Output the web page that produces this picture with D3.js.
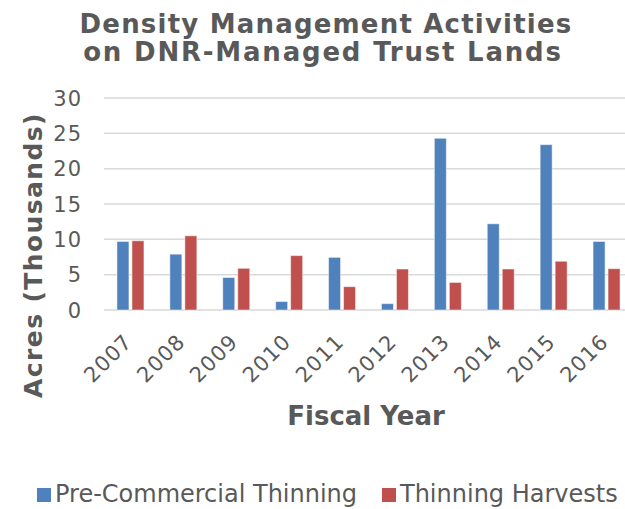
<!DOCTYPE html>
<html>
<head>
<meta charset="utf-8">
<script src="https://cdn.jsdelivr.net/npm/d3@7"></script>
<style>
  body { margin: 0; background: #fff; }
  text { font-family: "DejaVu Sans", Verdana, sans-serif; fill: #595959; }
</style>
</head>
<body>
<div id="chart"></div>
<script>
// Data
const years = ["2007", "2008", "2009", "2010", "2011", "2012", "2013", "2014", "2015", "2016"];
const preCommercial = [9.7, 7.9, 4.6, 1.2, 7.45, 0.9, 24.3, 12.2, 23.4, 9.7];
const thinningHarvests = [9.8, 10.5, 5.9, 7.7, 3.3, 5.8, 3.9, 5.8, 6.9, 5.85];
const seriesNames = ["Pre-Commercial Thinning", "Thinning Harvests"];
const yTicks = [0, 5, 10, 15, 20, 25, 30];

const width = 625, height = 509;
// plot runs a bit past the right edge, the picture is cropped there
const plot = { left: 104, right: 633, top: 98, bottom: 310 };
const colors = ["#4f81bd", "#c0504d"];

const svg = d3.select('#chart').append('svg').attr('width', width).attr('height', height);

const x = d3.scaleBand().domain(years).range([plot.left, plot.right]);
const y = d3.scaleLinear().domain([0, 30]).range([plot.bottom, plot.top]);

// Title
svg.append('text').attr('x', 326).attr('y', 33).attr('text-anchor', 'middle')
  .style('font-size', '26px').style('font-weight', 'bold').style('letter-spacing', '1.2px')
  .text('Density Management Activities');
svg.append('text').attr('x', 323).attr('y', 61).attr('text-anchor', 'middle')
  .style('font-size', '26px').style('font-weight', 'bold').style('letter-spacing', '1.8px')
  .text('on DNR-Managed Trust Lands');

// Gridlines
svg.selectAll('line.grid').data(yTicks).enter().append('line')
  .attr('x1', plot.left).attr('x2', width)
  .attr('y1', d => y(d)).attr('y2', d => y(d))
  .attr('stroke', '#d9d9d9').attr('stroke-width', 1.5);

// Y labels
svg.selectAll('text.ytick').data(yTicks).enter().append('text')
  .attr('x', 82).attr('y', d => y(d) + 7.5).attr('text-anchor', 'end')
  .style('font-size', '21px').style('letter-spacing', '1px').text(d => d);

// Bars
const barW = 12, gap = 3;
[preCommercial, thinningHarvests].forEach((vals, s) => {
  svg.selectAll('rect.s' + s).data(vals).enter().append('rect')
    .attr('x', (d, i) => x(years[i]) + x.bandwidth() / 2 - barW - gap / 2 + s * (barW + gap))
    .attr('y', d => y(d)).attr('width', barW).attr('height', d => y(0) - y(d))
    .attr('fill', colors[s]).attr('stroke', '#fff').attr('stroke-opacity', 0.5).attr('stroke-width', 1);
});

// X labels
svg.selectAll('text.xtick').data(years).enter().append('text')
  .attr('transform', d => `translate(${x(d) + x.bandwidth() / 2 + 3},${y(0) + 33}) rotate(-45)`)
  .attr('text-anchor', 'end').style('font-size', '21px').style('letter-spacing', '1px').text(d => d);

// Axis titles
svg.append('text').attr('transform', 'translate(42,255) rotate(-90)').attr('text-anchor', 'middle')
  .style('font-size', '25px').style('font-weight', 'bold').style('letter-spacing', '1.4px')
  .text('Acres (Thousands)');
svg.append('text').attr('x', 366).attr('y', 425).attr('text-anchor', 'middle')
  .style('font-size', '26px').style('font-weight', 'bold').text('Fiscal Year');

// Legend
const legendX = [37, 382];
seriesNames.forEach((name, i) => {
  svg.append('rect').attr('x', legendX[i]).attr('y', 488).attr('width', 14).attr('height', 14).attr('fill', colors[i]);
  svg.append('text').attr('x', legendX[i] + 18).attr('y', 502).style('font-size', '24px').text(name);
});
</script>
</body>
</html>
